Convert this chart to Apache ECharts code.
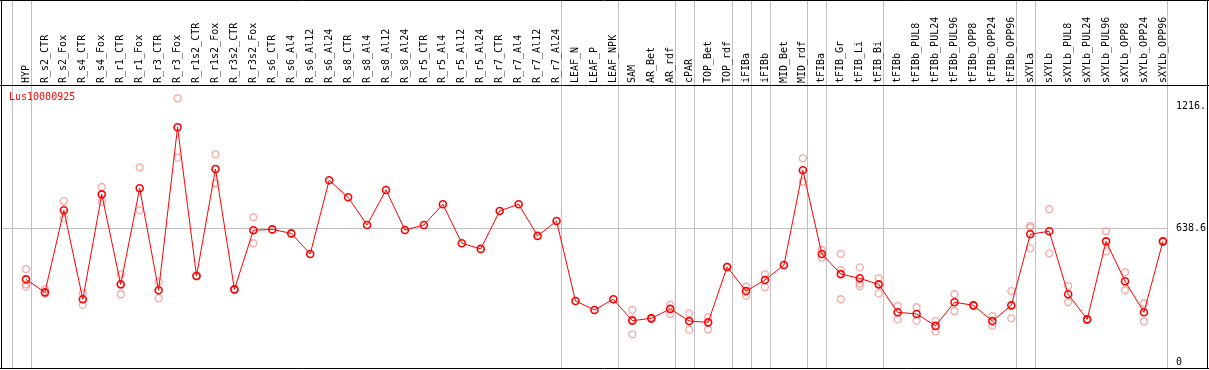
<!DOCTYPE html>
<html><head><meta charset="utf-8">
<script src="https://cdn.jsdelivr.net/npm/echarts@6/dist/echarts.min.js"></script>
<style>html,body{margin:0;padding:0;background:#fff}#c{width:1209px;height:370px}</style>
</head><body><div id="c"></div><script>
const categories = ['HYP','R_s2_CTR','R_s2_Fox','R_s4_CTR','R_s4_Fox','R_r1_CTR','R_r1_Fox','R_r3_CTR','R_r3_Fox','R_r1s2_CTR','R_r1s2_Fox','R_r3s2_CTR','R_r3s2_Fox','R_s6_CTR','R_s6_Al4','R_s6_Al12','R_s6_Al24','R_s8_CTR','R_s8_Al4','R_s8_Al12','R_s8_Al24','R_r5_CTR','R_r5_Al4','R_r5_Al12','R_r5_Al24','R_r7_CTR','R_r7_Al4','R_r7_Al12','R_r7_Al24','LEAF_N','LEAF_P','LEAF_NPK','SAM','AR_Bet','AR_rdf','cPAR','TOP_Bet','TOP_rdf','iFIBa','iFIBb','MID_Bet','MID_rdf','tFIBa','tFIB_Gr','tFIB_Li','tFIB_Bi','tFIBb','tFIBb_PUL8','tFIBb_PUL24','tFIBb_PUL96','tFIBb_OPP8','tFIBb_OPP24','tFIBb_OPP96','sXYLa','sXYLb','sXYLb_PUL8','sXYLb_PUL24','sXYLb_PUL96','sXYLb_OPP8','sXYLb_OPP24','sXYLb_OPP96'];
const means = [394,332,723,299,799,370,828,342,1119,410,920,346,628,632,613,515,866,785,653,820,629,653,752,566,539,720,752,601,672,291,248,299,197,208,253,195,189,453,338,391,462,914,515,419,399,370,237,229,172,285,270,195,270,609,623,323,203,575,385,237,575];
const replicates = [[443,370,359],[346,327],[767,685],[327,272],[834,764],[418,323],[928,723],[383,304],[1257,974],[412,408],[990,852],[348,344],[690,566],
 [],[],[],[],[],[],[],[],[],[],[],[],[],[],[],[],[],[],[],
 [248,203,132],[211,205],[272,229],[232,153],[213,156],[455,451],[359,316],[418,356],[],
 [971,859],[534,497],[515,439,299],[451,375,362],[399,327],[267,203],[261,197],[195,146],[323,243],[272,268],[219,173],[338,208],
 [648,642,542],[728,518],[362,286],[206,200],[623,528],[428,342],[280,194],[577,573]];
const yTickValues = [0, 638.6, 1216.3];
const yTickLabels = ['0', '638.6', '1216.'];
const gridValues = [638.6];
const groupEnds = [-1, 0, 28, 31, 34, 35, 37, 38, 39, 41, 42, 45, 52, 53, 60];
const chartTitle = 'Lus10000925';

const FONT = 'DejaVu Sans Mono';
const chart = echarts.init(document.getElementById('c'), null, {renderer: 'canvas'});
const repData = [];
replicates.forEach((r, i) => r.forEach(v => repData.push([i, v])));

chart.setOption({
  animation: false,
  backgroundColor: '#fff',
  title: {text: chartTitle, left: 9, top: 92, padding: 0,
    textStyle: {color: '#ff0000', fontSize: 10, fontWeight: 'normal', fontFamily: FONT}},
  grid: {left: 16.5, right: 33.5, top: 85, bottom: 1},
  xAxis: {type: 'category', position: 'top', data: categories, boundaryGap: true,
    axisLine: {show: false}, axisTick: {show: false}, splitLine: {show: false},
    axisLabel: {interval: 0, rotate: 90, margin: 2, fontSize: 10, fontFamily: FONT, color: '#000'}},
  yAxis: {type: 'value', position: 'right', min: -33.4, max: 1320.3,
    axisLine: {show: false}, axisTick: {show: false}, splitLine: {show: false},
    axisLabel: {customValues: yTickValues, margin: 3.5, fontSize: 10, fontFamily: FONT, color: '#000',
      formatter: v => { let b = 0; yTickValues.forEach((t, k) => { if (Math.abs(t - v) < Math.abs(yTickValues[b] - v)) b = k; }); return yTickLabels[b]; }}},
  series: [
    {type: 'scatter', data: repData, symbol: 'circle', symbolSize: 7, z: 2,
      itemStyle: {color: 'rgba(0,0,0,0)', borderColor: '#f09595', borderWidth: 1.3}},
    {type: 'line', data: means, symbol: 'circle', symbolSize: 7, showAllSymbol: true, z: 3,
      lineStyle: {color: '#ff0000', width: 1},
      itemStyle: {color: 'rgba(0,0,0,0)', borderColor: '#ff0000', borderWidth: 1.6}}
  ]
});

const x0 = chart.convertToPixel({xAxisIndex: 0}, 0);
const x1 = chart.convertToPixel({xAxisIndex: 0}, 1);
const step = x1 - x0;
const catX = i => x0 + step * i;
const sepX = i => Math.round(catX(i) + step * 0.24) + 0.5;
const graphics = [];
groupEnds.forEach(i => {
  const x = sepX(i);
  graphics.push({type: 'line', z: 0, shape: {x1: x, y1: 0, x2: x, y2: 369}, style: {stroke: '#c0c0c0', lineWidth: 1}});
});
const rightEdge = sepX(60);
gridValues.forEach(v => {
  const y = Math.round(chart.convertToPixel({yAxisIndex: 0}, v)) + 0.5;
  graphics.push({type: 'line', z: 0, shape: {x1: 1, y1: y, x2: rightEdge, y2: y}, style: {stroke: '#c0c0c0', lineWidth: 1}});
});
const black = {stroke: '#000', lineWidth: 1};
graphics.push({type: 'line', z: 10, shape: {x1: 0, y1: 0.5, x2: 1209, y2: 0.5}, style: black});
graphics.push({type: 'line', z: 10, shape: {x1: 0, y1: 85.5, x2: 1209, y2: 85.5}, style: black});
graphics.push({type: 'line', z: 10, shape: {x1: 0, y1: 368.5, x2: 1209, y2: 368.5}, style: black});
graphics.push({type: 'line', z: 10, shape: {x1: 1.5, y1: 0, x2: 1.5, y2: 369}, style: black});
graphics.push({type: 'line', z: 10, shape: {x1: 1207.5, y1: 0, x2: 1207.5, y2: 369}, style: black});
chart.setOption({graphic: {elements: graphics}});
</script></body></html>
